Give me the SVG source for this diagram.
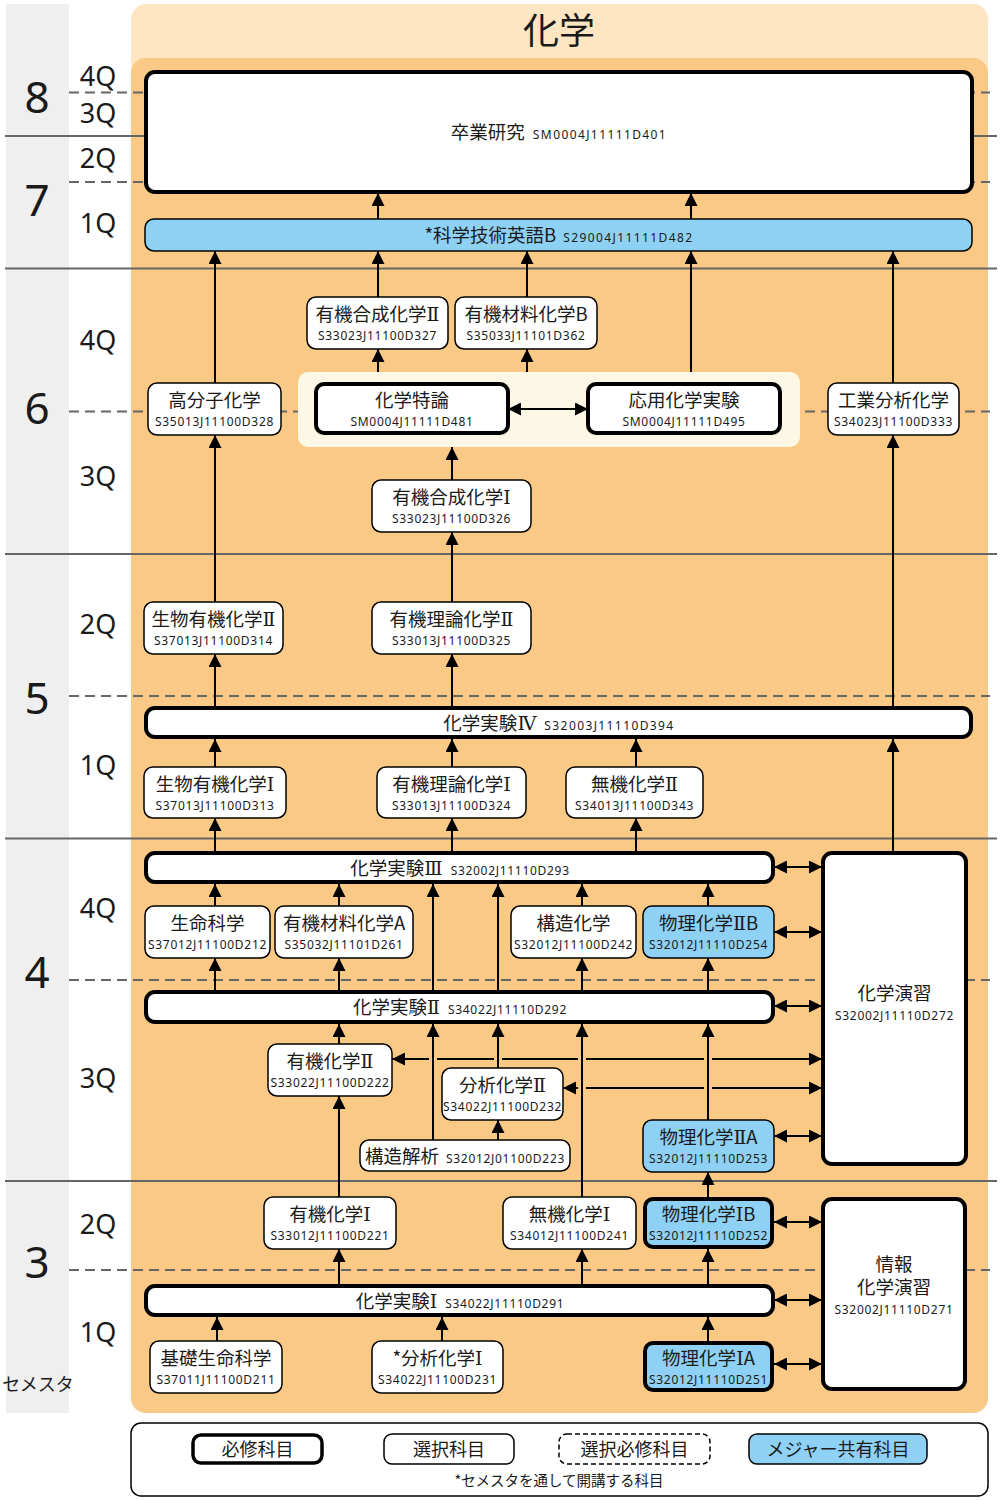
<svg xmlns="http://www.w3.org/2000/svg" width="1000" height="1500" viewBox="0 0 1000 1500">
<defs>
<marker id="ah" viewBox="0 0 13 13" refX="13" refY="6.5" markerWidth="13" markerHeight="13" markerUnits="userSpaceOnUse" orient="auto-start-reverse">
<path d="M0,0 L13,6.5 L0,13 z" fill="#000"/>
</marker>
<style>
.bx{fill:#fff;stroke:#000;stroke-width:1.5}
.rq{stroke-width:4}
.bl{fill:#8ed1f4}
.t{font-family:"Noto Sans CJK JP","Noto Sans",sans-serif;font-size:18.5px;text-anchor:middle;fill:#1a1a1a}
.r{font-family:"DejaVu Serif","Liberation Serif","Noto Sans CJK JP",serif;font-size:19px}
.c{font-family:"Noto Sans","DejaVu Sans",sans-serif;font-size:12px;letter-spacing:0.7px;text-anchor:middle;fill:#1a1a1a}
.ci{font-family:"Noto Sans","DejaVu Sans",sans-serif;font-size:12px;letter-spacing:0.7px}
.cw{font-family:"Noto Sans","DejaVu Sans",sans-serif;font-size:12px;letter-spacing:1.4px}
.cn{stroke:#000;stroke-width:2;fill:none}
.ar{marker-end:url(#ah)}
.da{marker-start:url(#ah);marker-end:url(#ah)}
.dl{stroke:#666;stroke-width:2;stroke-dasharray:10 6}
.sl{stroke:#666;stroke-width:2}
.q{font-family:"Noto Sans","DejaVu Sans",sans-serif;font-size:27px;text-anchor:middle;fill:#1a1a1a}
.s{font-family:"Noto Sans","DejaVu Sans",sans-serif;font-size:44px;text-anchor:middle;fill:#1a1a1a}
.lg{font-family:"Noto Sans CJK JP",sans-serif;font-size:18px;text-anchor:middle;fill:#1a1a1a}
</style>
</defs>
<rect x="0" y="0" width="1000" height="1500" fill="#fff"/>
<g id="background">
<rect x="6" y="4" width="63" height="1409" fill="#efefef"/>
<rect x="131" y="4" width="857" height="1409" rx="15" fill="#fde6c1"/>
<path d="M146,58 H973 A15,15 0 0 1 988,73 V1398 A15,15 0 0 1 973,1413 H146 A15,15 0 0 1 131,1398 V73 A15,15 0 0 1 146,58 z" fill="#f9c985"/>
<text x="559" y="44" font-family="Noto Sans CJK JP, sans-serif" font-size="36" text-anchor="middle" fill="#1a1a1a">化学</text>
</g>
<g id="grid">
<line class="dl" x1="69" y1="92.5" x2="990" y2="92.5"/>
<line class="dl" x1="69" y1="182" x2="990" y2="182"/>
<line class="dl" x1="69" y1="411.5" x2="990" y2="411.5"/>
<line class="dl" x1="69" y1="696" x2="990" y2="696"/>
<line class="dl" x1="69" y1="980" x2="990" y2="980"/>
<line class="dl" x1="69" y1="1270" x2="990" y2="1270"/>
<line class="sl" x1="5" y1="136" x2="997" y2="136"/>
<line class="sl" x1="5" y1="268.5" x2="997" y2="268.5"/>
<line class="sl" x1="5" y1="554" x2="997" y2="554"/>
<line class="sl" x1="5" y1="838.5" x2="997" y2="838.5"/>
<line class="sl" x1="5" y1="1181" x2="997" y2="1181"/>
</g>
<g id="labels">
<text class="s" x="37" y="113">8</text>
<text class="s" x="37" y="216">7</text>
<text class="s" x="37" y="424">6</text>
<text class="s" x="37" y="714">5</text>
<text class="s" x="37" y="988">4</text>
<text class="s" x="37" y="1278">3</text>
<text class="q" x="98" y="86">4Q</text>
<text class="q" x="98" y="123">3Q</text>
<text class="q" x="98" y="168">2Q</text>
<text class="q" x="98" y="233">1Q</text>
<text class="q" x="98" y="350">4Q</text>
<text class="q" x="98" y="486">3Q</text>
<text class="q" x="98" y="634">2Q</text>
<text class="q" x="98" y="775">1Q</text>
<text class="q" x="98" y="918">4Q</text>
<text class="q" x="98" y="1088">3Q</text>
<text class="q" x="98" y="1234">2Q</text>
<text class="q" x="98" y="1342">1Q</text>
<text x="38" y="1391" font-family="Noto Sans CJK JP, sans-serif" font-size="18" text-anchor="middle" fill="#1a1a1a">セメスタ</text>
</g>
<g id="panel-special">
<rect x="298" y="372" width="502" height="75" rx="10" fill="#fdf8e5"/>
</g>
<g id="connectors">
<line class="cn ar" x1="378" y1="219" x2="378" y2="193"/>
<line class="cn ar" x1="691" y1="219" x2="691" y2="193"/>
<line class="cn ar" x1="215" y1="383" x2="215" y2="251"/>
<line class="cn ar" x1="378" y1="297" x2="378" y2="251"/>
<line class="cn ar" x1="527" y1="297" x2="527" y2="251"/>
<line class="cn ar" x1="691" y1="372" x2="691" y2="251"/>
<line class="cn ar" x1="893" y1="383" x2="893" y2="251"/>
<line class="cn ar" x1="378" y1="372" x2="378" y2="349"/>
<line class="cn ar" x1="527" y1="372" x2="527" y2="349"/>
<line class="cn da" x1="508" y1="409" x2="588" y2="409"/>
<line class="cn ar" x1="452" y1="480" x2="452" y2="447"/>
<line class="cn ar" x1="452" y1="602" x2="452" y2="532"/>
<line class="cn ar" x1="215" y1="602" x2="215" y2="435"/>
<line class="cn ar" x1="893" y1="707" x2="893" y2="435"/>
<line class="cn ar" x1="215" y1="707" x2="215" y2="654"/>
<line class="cn ar" x1="452" y1="707" x2="452" y2="654"/>
<line class="cn ar" x1="215" y1="767" x2="215" y2="739"/>
<line class="cn ar" x1="452" y1="767" x2="452" y2="739"/>
<line class="cn ar" x1="636" y1="767" x2="636" y2="739"/>
<line class="cn ar" x1="893" y1="852" x2="893" y2="739"/>
<line class="cn ar" x1="215" y1="852" x2="215" y2="818"/>
<line class="cn ar" x1="452" y1="852" x2="452" y2="818"/>
<line class="cn ar" x1="636" y1="852" x2="636" y2="818"/>
<line class="cn ar" x1="215" y1="906" x2="215" y2="884"/>
<line class="cn ar" x1="339" y1="906" x2="339" y2="884"/>
<line class="cn ar" x1="433" y1="991" x2="433" y2="884"/>
<line class="cn ar" x1="498" y1="991" x2="498" y2="884"/>
<line class="cn ar" x1="582" y1="906" x2="582" y2="884"/>
<line class="cn ar" x1="708" y1="906" x2="708" y2="884"/>
<line class="cn ar" x1="215" y1="991" x2="215" y2="958"/>
<line class="cn ar" x1="339" y1="991" x2="339" y2="958"/>
<line class="cn ar" x1="582" y1="991" x2="582" y2="958"/>
<line class="cn ar" x1="708" y1="991" x2="708" y2="958"/>
<path class="cn da" d="M392,1059 H429 M437,1059 H494 M502,1059 H578 M586,1059 H704 M712,1059 H822"/>
<path class="cn da" d="M563,1088 H578 M586,1088 H704 M712,1088 H822"/>
<line class="cn ar" x1="339" y1="1044" x2="339" y2="1024"/>
<line class="cn ar" x1="433" y1="1140" x2="433" y2="1024"/>
<line class="cn ar" x1="498" y1="1068" x2="498" y2="1024"/>
<line class="cn ar" x1="582" y1="1197" x2="582" y2="1024"/>
<line class="cn ar" x1="708" y1="1120" x2="708" y2="1024"/>
<line class="cn ar" x1="498" y1="1140" x2="498" y2="1120"/>
<line class="cn ar" x1="339" y1="1197" x2="339" y2="1096"/>
<line class="cn ar" x1="708" y1="1197" x2="708" y2="1172"/>
<line class="cn ar" x1="339" y1="1284" x2="339" y2="1249"/>
<line class="cn ar" x1="582" y1="1284" x2="582" y2="1249"/>
<line class="cn ar" x1="708" y1="1284" x2="708" y2="1249"/>
<line class="cn ar" x1="217" y1="1341" x2="217" y2="1317"/>
<line class="cn ar" x1="442" y1="1341" x2="442" y2="1317"/>
<line class="cn ar" x1="708" y1="1341" x2="708" y2="1317"/>
<line class="cn da" x1="774" y1="867" x2="822" y2="867"/>
<line class="cn da" x1="774" y1="932" x2="822" y2="932"/>
<line class="cn da" x1="774" y1="1006" x2="822" y2="1006"/>
<line class="cn da" x1="774" y1="1136" x2="822" y2="1136"/>
<line class="cn da" x1="774" y1="1222" x2="822" y2="1222"/>
<line class="cn da" x1="774" y1="1300" x2="822" y2="1300"/>
<line class="cn da" x1="774" y1="1364" x2="822" y2="1364"/>
</g>
<g id="n-sotsugyo"><rect class="bx rq" x="146" y="72" width="826" height="120" rx="9"/>
<text class="t" x="559" y="139">卒業研究<tspan class="cw" dx="8">SM0004J11111D401</tspan></text></g>
<g id="n-eigoB"><rect class="bx bl" x="145" y="219" width="827" height="32" rx="9"/>
<text class="t" x="559" y="242">*科学技術英語B<tspan class="cw" dx="7">S29004J11111D482</tspan></text></g>
<g id="n-yukigousei2"><rect class="bx" x="307" y="297" width="141" height="52" rx="9"/>
<text class="t" x="377.5" y="320.5">有機合成化学<tspan class="r">Ⅱ</tspan></text><text class="c" x="377.5" y="340">S33023J11100D327</text></g>
<g id="n-yukizairyoB"><rect class="bx" x="455" y="297" width="142" height="52" rx="9"/>
<text class="t" x="526" y="320.5">有機材料化学B</text><text class="c" x="526" y="340">S35033J11101D362</text></g>
<g id="n-koubunshi"><rect class="bx" x="148" y="383" width="133" height="52" rx="9"/>
<text class="t" x="214.5" y="406.5">高分子化学</text><text class="c" x="214.5" y="426">S35013J11100D328</text></g>
<g id="n-tokuron"><rect class="bx rq" x="316" y="384" width="192" height="49" rx="8"/>
<text class="t" x="412" y="406.5">化学特論</text><text class="c" x="412" y="426">SM0004J11111D481</text></g>
<g id="n-ouyou"><rect class="bx rq" x="588" y="384" width="192" height="49" rx="8"/>
<text class="t" x="684" y="406.5">応用化学実験</text><text class="c" x="684" y="426">SM0004J11111D495</text></g>
<g id="n-kougyou"><rect class="bx" x="828" y="383" width="131" height="52" rx="9"/>
<text class="t" x="893.5" y="406.5">工業分析化学</text><text class="c" x="893.5" y="426">S34023J11100D333</text></g>
<g id="n-yukigousei1"><rect class="bx" x="372" y="480" width="159" height="52" rx="9"/>
<text class="t" x="451.5" y="503.5">有機合成化学<tspan class="r">Ⅰ</tspan></text><text class="c" x="451.5" y="523">S33023J11100D326</text></g>
<g id="n-seibutsu2"><rect class="bx" x="144" y="602" width="139" height="52" rx="9"/>
<text class="t" x="213.5" y="625.5">生物有機化学<tspan class="r">Ⅱ</tspan></text><text class="c" x="213.5" y="645">S37013J11100D314</text></g>
<g id="n-riron2"><rect class="bx" x="372" y="602" width="159" height="52" rx="9"/>
<text class="t" x="451.5" y="625.5">有機理論化学<tspan class="r">Ⅱ</tspan></text><text class="c" x="451.5" y="645">S33013J11100D325</text></g>
<g id="n-jikken4"><rect class="bx rq" x="146" y="708" width="825" height="29" rx="9"/>
<text class="t" x="559" y="729.5">化学実験<tspan class="r">Ⅳ</tspan><tspan class="cw" dx="8">S32003J11110D394</tspan></text></g>
<g id="n-seibutsu1"><rect class="bx" x="144" y="767" width="142" height="51" rx="9"/>
<text class="t" x="215" y="790.5">生物有機化学<tspan class="r">Ⅰ</tspan></text><text class="c" x="215" y="810">S37013J11100D313</text></g>
<g id="n-riron1"><rect class="bx" x="377" y="767" width="149" height="51" rx="9"/>
<text class="t" x="451.5" y="790.5">有機理論化学<tspan class="r">Ⅰ</tspan></text><text class="c" x="451.5" y="810">S33013J11100D324</text></g>
<g id="n-muki2"><rect class="bx" x="566" y="767" width="137" height="51" rx="9"/>
<text class="t" x="634.5" y="790.5">無機化学<tspan class="r">Ⅱ</tspan></text><text class="c" x="634.5" y="810">S34013J11100D343</text></g>
<g id="n-jikken3"><rect class="bx rq" x="146" y="853" width="627" height="29" rx="9"/>
<text class="t" x="460" y="874.5">化学実験<tspan class="r">Ⅲ</tspan><tspan class="ci" dx="8">S32002J11110D293</tspan></text></g>
<g id="n-enshu"><rect class="bx rq" x="823" y="853" width="143" height="311" rx="9"/>
<text class="t" x="894.5" y="1000">化学演習</text><text class="c" x="894.5" y="1020">S32002J11110D272</text></g>
<g id="n-seimei"><rect class="bx" x="145" y="906" width="125" height="52" rx="9"/>
<text class="t" x="207.5" y="929.5">生命科学</text><text class="c" x="207.5" y="949">S37012J11100D212</text></g>
<g id="n-yukizairyoA"><rect class="bx" x="275" y="906" width="138" height="52" rx="9"/>
<text class="t" x="344" y="929.5">有機材料化学A</text><text class="c" x="344" y="949">S35032J11101D261</text></g>
<g id="n-kouzou"><rect class="bx" x="511" y="906" width="125" height="52" rx="9"/>
<text class="t" x="573.5" y="929.5">構造化学</text><text class="c" x="573.5" y="949">S32012J11100D242</text></g>
<g id="n-butsuri2B"><rect class="bx bl" x="643" y="906" width="131" height="52" rx="9"/>
<text class="t" x="708.5" y="929.5">物理化学<tspan class="r">Ⅱ</tspan>B</text><text class="c" x="708.5" y="949">S32012J11110D254</text></g>
<g id="n-jikken2"><rect class="bx rq" x="146" y="992" width="627" height="30" rx="9"/>
<text class="t" x="460" y="1014">化学実験<tspan class="r">Ⅱ</tspan><tspan class="ci" dx="8">S34022J11110D292</tspan></text></g>
<g id="n-yuki2"><rect class="bx" x="268" y="1044" width="124" height="52" rx="9"/>
<text class="t" x="330" y="1067.5">有機化学<tspan class="r">Ⅱ</tspan></text><text class="c" x="330" y="1087">S33022J11100D222</text></g>
<g id="n-bunseki2"><rect class="bx" x="442" y="1068" width="121" height="52" rx="9"/>
<text class="t" x="502.5" y="1091.5">分析化学<tspan class="r">Ⅱ</tspan></text><text class="c" x="502.5" y="1111">S34022J11100D232</text></g>
<g id="n-kaiseki"><rect class="bx" x="360" y="1140" width="210" height="31" rx="9"/>
<text class="t" x="465" y="1162.5">構造解析<tspan class="ci" dx="7">S32012J01100D223</tspan></text></g>
<g id="n-butsuri2A"><rect class="bx bl" x="643" y="1120" width="131" height="52" rx="9"/>
<text class="t" x="708.5" y="1143.5">物理化学<tspan class="r">Ⅱ</tspan>A</text><text class="c" x="708.5" y="1163">S32012J11110D253</text></g>
<g id="n-yuki1"><rect class="bx" x="264" y="1197" width="132" height="52" rx="9"/>
<text class="t" x="330" y="1220.5">有機化学<tspan class="r">Ⅰ</tspan></text><text class="c" x="330" y="1240">S33012J11100D221</text></g>
<g id="n-muki1"><rect class="bx" x="503" y="1197" width="133" height="52" rx="9"/>
<text class="t" x="569.5" y="1220.5">無機化学<tspan class="r">Ⅰ</tspan></text><text class="c" x="569.5" y="1240">S34012J11100D241</text></g>
<g id="n-butsuri1B"><rect class="bx bl rq" x="645" y="1199" width="127" height="48" rx="8"/>
<text class="t" x="708.5" y="1220.5">物理化学<tspan class="r">Ⅰ</tspan>B</text><text class="c" x="708.5" y="1240">S32012J11110D252</text></g>
<g id="n-jouhou"><rect class="bx rq" x="823" y="1199" width="142" height="190" rx="9"/>
<text class="t" x="894" y="1271">情報</text><text class="t" x="894" y="1294">化学演習</text><text class="c" x="894" y="1314">S32002J11110D271</text></g>
<g id="n-jikken1"><rect class="bx rq" x="146" y="1286" width="627" height="29" rx="9"/>
<text class="t" x="460" y="1307.5">化学実験<tspan class="r">Ⅰ</tspan><tspan class="ci" dx="8">S34022J11110D291</tspan></text></g>
<g id="n-kiso"><rect class="bx" x="150" y="1341" width="132" height="52" rx="9"/>
<text class="t" x="216" y="1364.5">基礎生命科学</text><text class="c" x="216" y="1384">S37011J11100D211</text></g>
<g id="n-bunseki1"><rect class="bx" x="372" y="1341" width="131" height="52" rx="9"/>
<text class="t" x="437.5" y="1364.5">*分析化学<tspan class="r">Ⅰ</tspan></text><text class="c" x="437.5" y="1384">S34022J11100D231</text></g>
<g id="n-butsuri1A"><rect class="bx bl rq" x="645" y="1343" width="127" height="47" rx="8"/>
<text class="t" x="708.5" y="1364.5">物理化学<tspan class="r">Ⅰ</tspan>A</text><text class="c" x="708.5" y="1384">S32012J11110D251</text></g>
<g id="legend">
<rect x="131" y="1423" width="857" height="73" rx="10" fill="#fff" stroke="#000" stroke-width="1.5"/>
<rect x="193" y="1435" width="129" height="28" rx="8" fill="#fff" stroke="#000" stroke-width="3.5"/>
<text class="lg" x="257.5" y="1456">必修科目</text>
<rect x="384" y="1434" width="130" height="30" rx="8" fill="#fff" stroke="#000" stroke-width="1.5"/>
<text class="lg" x="449" y="1456">選択科目</text>
<rect x="559" y="1434" width="151" height="30" rx="8" fill="#fff" stroke="#000" stroke-width="1.5" stroke-dasharray="5 3"/>
<text class="lg" x="634.5" y="1456">選択必修科目</text>
<rect x="749" y="1434" width="178" height="30" rx="8" fill="#8ed1f4" stroke="#000" stroke-width="1.5"/>
<text class="lg" x="838" y="1456">メジャー共有科目</text>
<text x="559" y="1486" font-family="Noto Sans CJK JP, sans-serif" font-size="14.5" text-anchor="middle" fill="#1a1a1a">*セメスタを通して開講する科目</text>
</g>
</svg>
